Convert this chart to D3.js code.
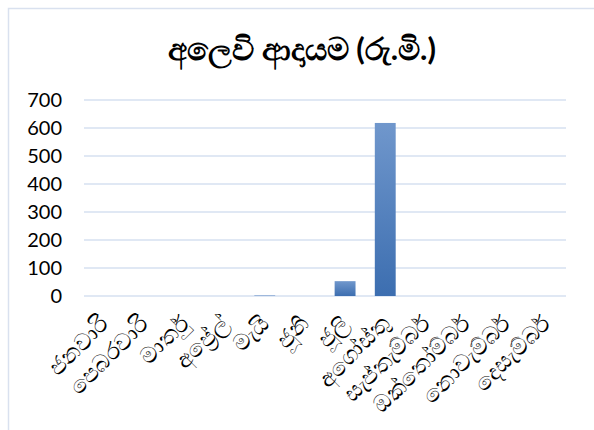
<!DOCTYPE html>
<html>
<head>
<meta charset="utf-8">
<script src="https://cdn.jsdelivr.net/npm/d3@7"></script>
<style>
  body { margin: 0; background: #fff; }
  text { font-family: Lato, "Noto Sans", sans-serif; fill: #000; }
</style>
</head>
<body>
<svg></svg>
<script>
let width = 594;
let height = 430;

// data
let months = ['ජනවාරි', 'පෙබරවාරි', 'මාර්තු', 'අප්‍රේල්', 'මැයි', 'ජූනි',
              'ජූලි', 'අගෝස්තු', 'සැප්තැම්බර්', 'ඔක්තෝම්බර්', 'නොවැම්බර්', 'දෙසැම්බර්'];
let revenue = [0, 0, 0, 0, 2, 0, 53, 618, 0, 0, 0, 0];
let yTicks = [0, 100, 200, 300, 400, 500, 600, 700];
let title = 'අලෙවි ආදායම (රු.මි.)';

let svg = d3.select('svg')
            .attr('width', width)
            .attr('height', height);

// gradient for bars
let grad = svg.append('defs').append('linearGradient')
              .attr('id', 'barGrad')
              .attr('x1', 0).attr('y1', 0).attr('x2', 0).attr('y2', 1);
grad.append('stop').attr('offset', '0%').attr('stop-color', '#7097cc');
grad.append('stop').attr('offset', '100%').attr('stop-color', '#3c6eb0');

// chart border
svg.append('rect')
   .attr('x', 8.5).attr('y', 8.5)
   .attr('width', 600).attr('height', 440)
   .attr('fill', 'none')
   .attr('stroke', '#d9e1ef')
   .attr('stroke-width', 1.5);

let x = d3.scaleBand()
          .domain(months)
          .range([84, 566])
          .paddingInner(0.48)
          .paddingOuter(0.24);

let y = d3.scaleLinear()
          .domain([0, 700])
          .range([296, 100]);

// gridlines
svg.append('g')
   .selectAll('line')
   .data(yTicks)
   .enter()
   .append('line')
   .attr('x1', 84).attr('x2', 566)
   .attr('y1', d => y(d)).attr('y2', d => y(d))
   .attr('stroke', '#d6e0f0')
   .attr('stroke-width', 1.5);

// y labels
svg.append('g')
   .selectAll('text')
   .data(yTicks)
   .enter()
   .append('text')
   .attr('x', 62)
   .attr('y', d => y(d))
   .attr('dy', '0.36em')
   .attr('text-anchor', 'end')
   .style('font-size', '20px')
   .text(d => d);

// bars
svg.append('g')
   .selectAll('rect')
   .data(revenue)
   .enter()
   .append('rect')
   .attr('x', (d, i) => x(months[i]))
   .attr('y', d => y(d))
   .attr('width', x.bandwidth())
   .attr('height', d => y(0) - y(d))
   .attr('fill', 'url(#barGrad)');

// x labels
svg.append('g')
   .selectAll('text')
   .data(months)
   .enter()
   .append('text')
   .attr('transform', d => 'translate(' + (x(d) + x.bandwidth() / 2 + 6) + ',325) rotate(-45)')
   .attr('text-anchor', 'end')
   .style('font-size', '23px')
   .text(d => d);

// title
svg.append('text')
   .attr('x', 302)
   .attr('y', 60)
   .attr('text-anchor', 'middle')
   .style('font-size', '31px')
   .style('font-weight', 'bold')
   .text(title);
</script>
</body>
</html>
